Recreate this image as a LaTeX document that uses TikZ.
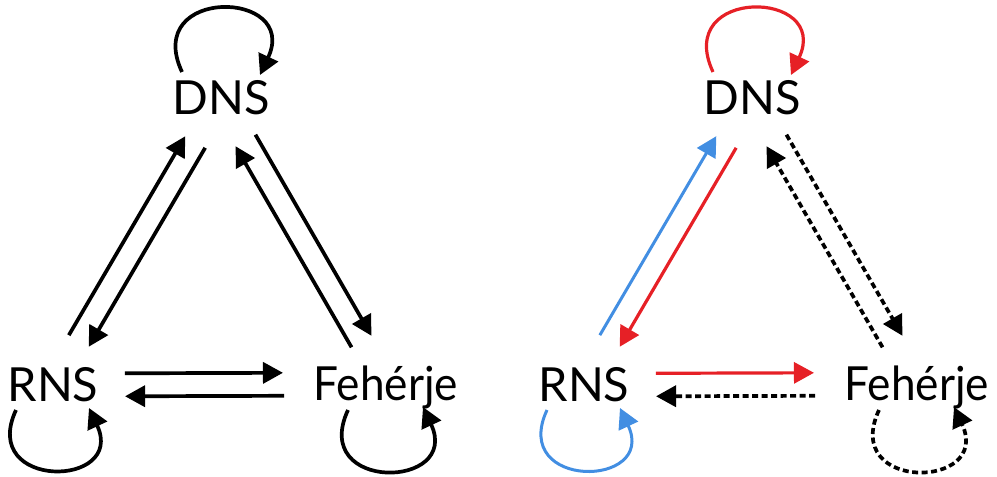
\documentclass[tikz,border=0pt]{standalone}
\usepackage{fontspec}
\setmainfont{Lato}
\usetikzlibrary{arrows.meta,calc}
\definecolor{pathred}{RGB}{230,32,38}
\definecolor{pathblue}{RGB}{66,142,226}
\tikzset{
lbl/.style={font=\fontsize{47}{50}\selectfont, text height=34pt, text depth=0pt, inner sep=0pt},
arr/.style={line width=3.7pt, -{Triangle[length=20pt,width=21pt]}},
dsh/.style={arr, dash pattern=on 6pt off 3.5pt},
redarr/.style={arr, color=pathred, line width=3.2pt},
bluearr/.style={arr, color=pathblue, line width=3pt},
offpath/.style 2 args={to path={($(\tikztostart)!#1!(\tikztotarget)!11.5pt!90:(\tikztotarget)$) -- ($(\tikztotarget)!#2!(\tikztostart)!11.5pt!-90:(\tikztostart)$)}},
selfloop/.style={out=#1, in=180-#1, looseness=3.1}
}
\begin{document}
\begin{tikzpicture}[x=1pt,y=1pt]
\useasboundingbox (0,0) rectangle (997,477);

\node[lbl] (dns1) at (221,379) {DNS};
\node[lbl] (rns1) at (53,92) {RNS};
\node[lbl, xscale=0.94, transform shape] (feh1) at (386,93) {Fehérje};
\draw[arr] ([shift={(-39,26)}]dns1.center) to[selfloop=115] ([shift={(39,23)}]dns1.center);
\draw[arr] (rns1) to[offpath={51pt}{51pt}] (dns1);
\draw[arr] (dns1) to[offpath={51pt}{51pt}] (rns1);
\draw[arr] (dns1) to[offpath={49pt}{49pt}] (feh1);
\draw[arr] (feh1) to[offpath={49pt}{49pt}] (dns1);
\draw[arr] (rns1) to[offpath={72pt}{103pt}] (feh1);
\draw[arr] (feh1) to[offpath={102pt}{72pt}] (rns1);
\draw[arr] ([shift={(-37,-25)}]rns1.center) to[selfloop=-115] ([shift={(36,-23)}]rns1.center);
\draw[arr] ([shift={(-38,-26)}]feh1.center) to[selfloop=-115] ([shift={(37,-23)}]feh1.center);



\node[lbl] (dns2) at (752,379) {DNS};
\node[lbl] (rns2) at (584,92) {RNS};
\node[lbl, xscale=0.94, transform shape] (feh2) at (917,93) {Fehérje};
\draw[redarr] ([shift={(-39,26)}]dns2.center) to[selfloop=115] ([shift={(39,23)}]dns2.center);
\draw[bluearr] (rns2) to[offpath={51pt}{51pt}] (dns2);
\draw[redarr] (dns2) to[offpath={51pt}{51pt}] (rns2);
\draw[dsh] (dns2) to[offpath={49pt}{49pt}] (feh2);
\draw[dsh] (feh2) to[offpath={49pt}{49pt}] (dns2);
\draw[redarr] (rns2) to[offpath={72pt}{103pt}] (feh2);
\draw[dsh] (feh2) to[offpath={102pt}{72pt}] (rns2);
\draw[bluearr] ([shift={(-37,-25)}]rns2.center) to[selfloop=-115] ([shift={(36,-23)}]rns2.center);
\draw[dsh] ([shift={(-38,-26)}]feh2.center) to[selfloop=-115] ([shift={(37,-23)}]feh2.center);
\end{tikzpicture}
\end{document}
